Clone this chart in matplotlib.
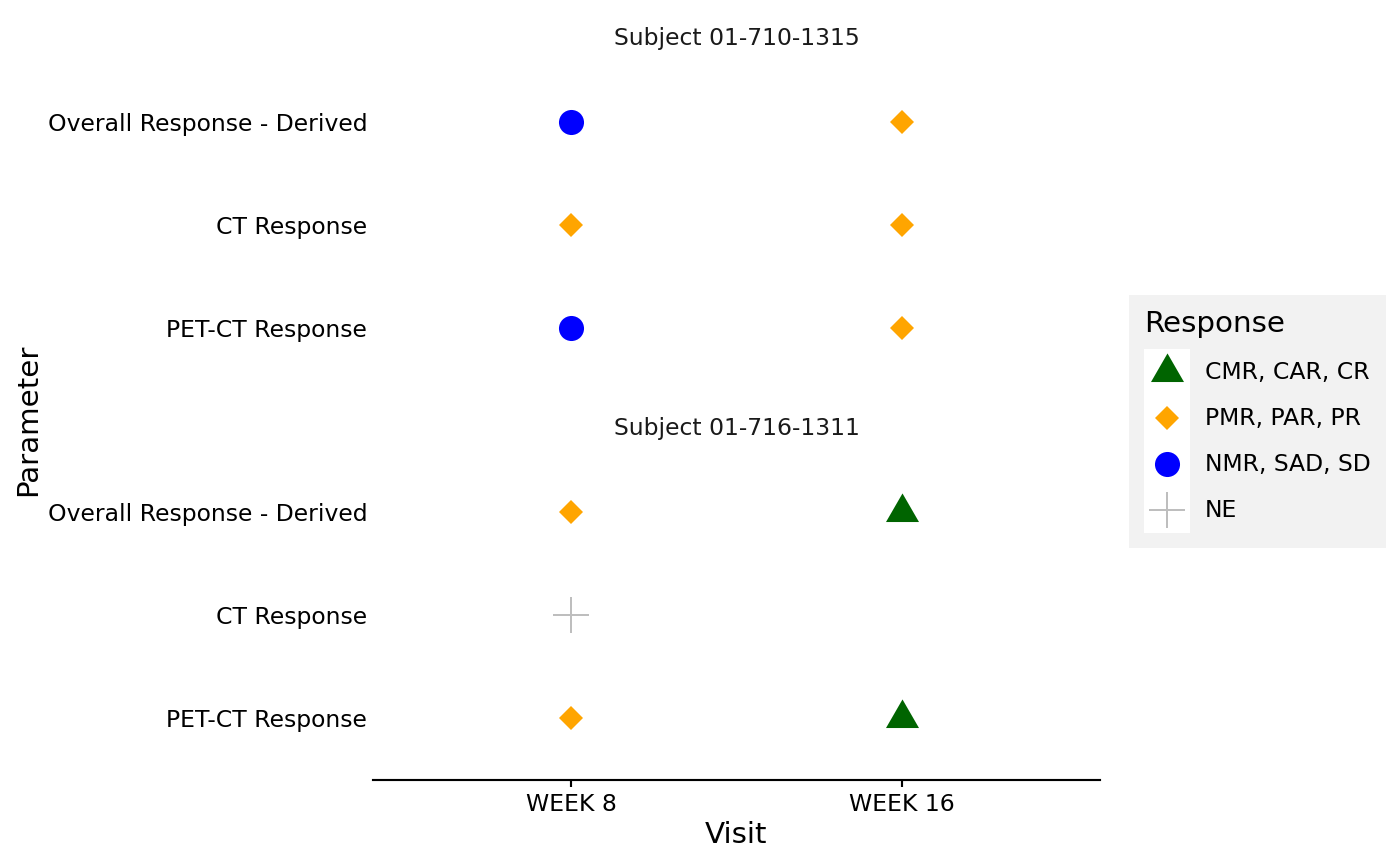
import matplotlib
matplotlib.use("Agg")
import matplotlib.pyplot as plt
from matplotlib.lines import Line2D
from matplotlib.patches import Rectangle

# ---------------- data ----------------
subjects = ["01-710-1315", "01-716-1311"]
params = ["PET-CT Response", "CT Response", "Overall Response - Derived"]  # bottom -> top
visits = ["WEEK 8", "WEEK 16"]
categories = ["CMR, CAR, CR", "PMR, PAR, PR", "NMR, SAD, SD", "NE"]

rec_subject = ["01-710-1315"] * 6 + ["01-716-1311"] * 5
rec_param = ["Overall Response - Derived", "Overall Response - Derived",
             "CT Response", "CT Response",
             "PET-CT Response", "PET-CT Response",
             "Overall Response - Derived", "Overall Response - Derived",
             "CT Response",
             "PET-CT Response", "PET-CT Response"]
rec_visit = ["WEEK 8", "WEEK 16", "WEEK 8", "WEEK 16", "WEEK 8", "WEEK 16",
             "WEEK 8", "WEEK 16", "WEEK 8", "WEEK 8", "WEEK 16"]
rec_resp = ["NMR, SAD, SD", "PMR, PAR, PR", "PMR, PAR, PR", "PMR, PAR, PR",
            "NMR, SAD, SD", "PMR, PAR, PR",
            "PMR, PAR, PR", "CMR, CAR, CR", "NE", "PMR, PAR, PR", "CMR, CAR, CR"]

# ---------------- styles ----------------
tri = [(0, 0.57735), (-0.5, -0.288675), (0.5, -0.288675), (0, 0.57735)]
styles = {
    "CMR, CAR, CR": dict(marker=tri, color="#006400", ms=14.3, mew=0),
    "PMR, PAR, PR": dict(marker="D", color="#FFA500", ms=6.4, mew=0),
    "NMR, SAD, SD": dict(marker="o", color="#0000FF", ms=9.4, mew=0),
    "NE": dict(marker="+", color="#BEBEBE", ms=13.5, mew=0.75),
}

W, H, DPI = 1400, 865, 192
fig = plt.figure(figsize=(W / DPI, H / DPI), dpi=DPI)
fig.patch.set_facecolor("white")

left = 373 / W
width = 727 / W
panel_h = 330 / H
bottoms = [(H - 390) / H, (H - 780) / H]

axes = []
for i, subj in enumerate(subjects):
    ax = fig.add_axes([left, bottoms[i], width, panel_h])
    axes.append(ax)
    for cat in categories:
        xs, ys = [], []
        for s, p, v, r in zip(rec_subject, rec_param, rec_visit, rec_resp):
            if s == subj and r == cat:
                xs.append(visits.index(v) + 1)
                ys.append(params.index(p) + 1)
        if xs:
            st = styles[cat]
            ax.plot(xs, ys, ls="none", marker=st["marker"], ms=st["ms"],
                    color=st["color"], mec=st["color"], mew=st["mew"],
                    clip_on=False)
    ax.set_xlim(0.4, len(visits) + 0.6)
    ax.set_ylim(0.4, len(params) + 0.6)
    ax.set_yticks(range(1, len(params) + 1))
    ax.set_yticklabels(params, fontsize=8.8, color="black")
    ax.tick_params(axis="y", length=0, pad=2.2)
    for sp in ax.spines.values():
        sp.set_visible(False)
    ax.annotate("Subject " + subj, xy=(0.5, 1), xycoords="axes fraction",
                xytext=(0, 22 * 72 / DPI), textcoords="offset points",
                ha="center", va="center", fontsize=8.8, color="#1A1A1A")
    ax.set_xticks(range(1, len(visits) + 1))
    if i == len(subjects) - 1:
        ax.set_xticklabels(visits, fontsize=8.8, color="black")
        ax.tick_params(axis="x", length=2.75, width=0.8, pad=2.2, color="black")
        ax.spines["bottom"].set_visible(True)
        ax.spines["bottom"].set_linewidth(0.8)
        ax.set_xlabel("Visit", fontsize=11, labelpad=1.7)
    else:
        ax.set_xticklabels([])
        ax.tick_params(axis="x", length=0)

fig.text(28 / W, 1 - 420 / H, "Parameter", rotation=90, ha="center",
         va="center", fontsize=11)


# ---------------- legend ----------------
class KeyHandler:
    """ggplot-like legend key: white square with the marker centred in it."""

    def legend_artist(self, legend, orig_handle, fontsize, handlebox):
        x0, y0 = -handlebox.xdescent, -handlebox.ydescent
        w, h = handlebox.width, handlebox.height
        bg = Rectangle((x0, y0), w, h, facecolor="white", edgecolor="none",
                       transform=handlebox.get_transform())
        handlebox.add_artist(bg)
        mk = Line2D([x0 + w / 2], [y0 + h / 2], ls="none",
                    marker=orig_handle.get_marker(),
                    ms=orig_handle.get_markersize(),
                    color=orig_handle.get_color(),
                    mec=orig_handle.get_markeredgecolor(),
                    mew=orig_handle.get_markeredgewidth(),
                    transform=handlebox.get_transform())
        handlebox.add_artist(mk)
        return mk


handles = []
for cat in categories:
    st = styles[cat]
    handles.append(Line2D([], [], ls="none", marker=st["marker"], ms=st["ms"],
                          color=st["color"], mec=st["color"], mew=st["mew"]))

fs = 8.8
key_pt = 46 * 72 / DPI
hh = (key_pt / fs - 0.245) / 0.65
leg = fig.legend(handles, categories, loc="center left",
                 bbox_to_anchor=(1129 / W, 1 - 421.5 / H), borderaxespad=0,
                 title="Response", title_fontsize=11, fontsize=fs,
                 frameon=True, facecolor="#F2F2F2", edgecolor="none",
                 fancybox=False, framealpha=1,
                 handlelength=key_pt / fs, handleheight=hh,
                 labelspacing=0, handletextpad=15 * 72 / DPI / fs,
                 borderpad=15 * 72 / DPI / fs, alignment="left",
                 handler_map={Line2D: KeyHandler()})
leg._legend_box.sep = 11 * 72 / DPI

fig.savefig("out.png", dpi=DPI)
